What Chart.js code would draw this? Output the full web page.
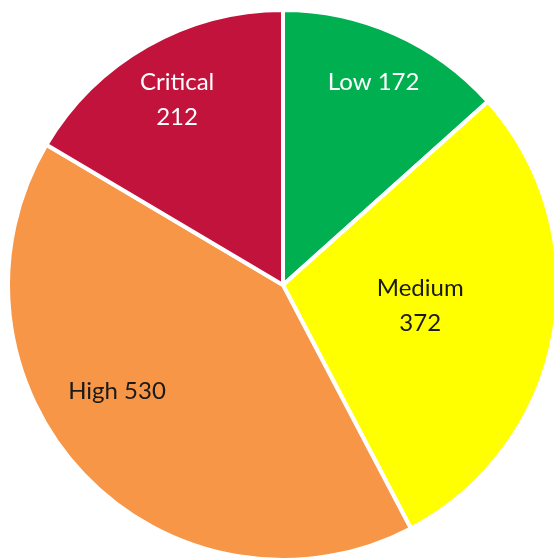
<!DOCTYPE html>
<html>
<head>
<meta charset="utf-8">
<script src="https://cdn.jsdelivr.net/npm/chart.js@4/dist/chart.umd.min.js"></script>
<style>
  html, body { margin: 0; padding: 0; background: #fff; overflow: hidden; }
  body { width: 554px; height: 559px; position: relative; }
  #wrap { position: absolute; left: 6px; top: 8px; width: 554px; height: 554px; }
</style>
</head>
<body>
<div id="wrap"><canvas id="pie"></canvas></div>
<script>
// severity counts
var categories = ['Low', 'Medium', 'High', 'Critical']
var counts = [172, 372, 530, 212]
var colors = ['#00B050', '#FFFF00', '#F79646', '#C1133B']

// label look and placement (radius as fraction of the slice radius, angle shift in degrees)
var labelColors = ['#ffffff', '#1a1a1a', '#1a1a1a', '#ffffff']
var labelBreak = [false, true, false, true]
var labelRadius = [0.808, 0.504, 0.716, 0.778]
var labelShift = [0, -2, 11, 0]

var sliceLabels = {
  id: 'sliceLabels',
  afterDatasetsDraw: function(chart) {
    var ctx = chart.ctx
    var arcs = chart.getDatasetMeta(0).data
    ctx.save()
    ctx.font = '24px Lato'
    ctx.textAlign = 'center'
    ctx.textBaseline = 'middle'
    arcs.forEach(function(arc, i) {
      var p = arc.getProps(['x', 'y', 'startAngle', 'endAngle', 'outerRadius'], true)
      var mid = (p.startAngle + p.endAngle) / 2 + labelShift[i] * Math.PI / 180
      var r = p.outerRadius * labelRadius[i]
      var x = p.x + Math.cos(mid) * r
      var y = p.y + Math.sin(mid) * r
      ctx.fillStyle = labelColors[i]
      if (labelBreak[i]) {
        ctx.fillText(categories[i], x, y - 17)
        ctx.fillText(String(counts[i]), x, y + 18)
      } else {
        ctx.fillText(categories[i] + ' ' + counts[i], x, y)
      }
    })
    ctx.restore()
  }
}

var chart = new Chart(document.getElementById('pie'), {
  type: 'pie',
  data: {
    labels: categories,
    datasets: [{
      data: counts,
      backgroundColor: colors,
      borderColor: '#ffffff',
      borderWidth: 4
    }]
  },
  options: {
    responsive: true,
    maintainAspectRatio: false,
    animation: false,
    layout: { padding: 0 },
    plugins: {
      legend: { display: false },
      tooltip: { enabled: false }
    }
  },
  plugins: [sliceLabels]
})
</script>
</body>
</html>
